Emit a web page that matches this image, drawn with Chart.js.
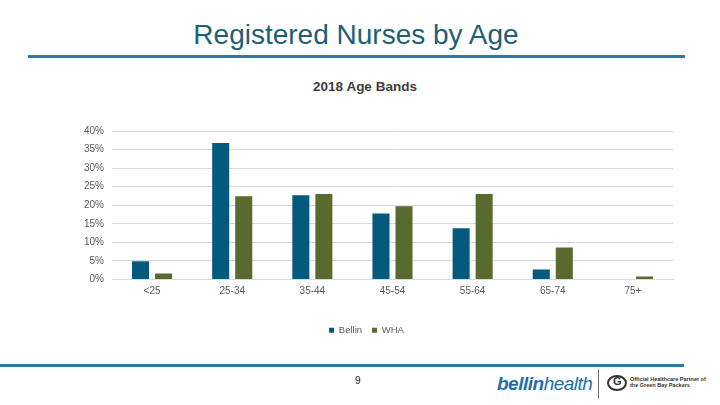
<!DOCTYPE html>
<html>
<head>
<meta charset="utf-8">
<script src="https://cdn.jsdelivr.net/npm/chart.js@4.4.0/dist/chart.umd.min.js"></script>
<style>
    body { margin: 0; width: 720px; height: 405px; background: #fff; position: relative; overflow: hidden; font-family: "Liberation Sans", Arial, sans-serif; }
    .title { position: absolute; left: 0; width: 712px; top: 19px; text-align: center; font-size: 28px; color: #1d5e78; }
    .rule-top { position: absolute; left: 28px; width: 657px; top: 55px; height: 3px; background: #2a7aa3; }
    .subtitle { position: absolute; left: 0; width: 730px; top: 79px; text-align: center; font-size: 13.5px; font-weight: bold; color: #404040; }
    .rule-bottom { position: absolute; left: 0; width: 684px; top: 364px; height: 3px; background: #2a7aa3; }
    .page { position: absolute; left: 355px; top: 375px; font-size: 10px; color: #222; }
    .logo { position: absolute; left: 497px; top: 373px; font-size: 19px; color: #1e6fa8; font-style: italic; letter-spacing: -0.5px; }
    .logo b { font-weight: 900; }
    .logo span { font-weight: 300; }
    .sep { position: absolute; left: 598px; top: 370px; width: 1px; height: 28px; background: #666; }
    .gb { position: absolute; left: 607px; top: 375px; width: 16px; height: 12px; border-radius: 50%; border: 2px solid #333; }
    .gb:after { content: "G"; position: absolute; left: 4px; top: -2px; font-size: 11px; font-weight: bold; color: #333; }
    .partner { position: absolute; left: 630px; top: 376px; font-size: 5.5px; line-height: 6px; color: #333; font-weight: bold; }
    #wrap { position: absolute; left: 60px; top: 75px; width: 640px; height: 270px; }
</style>
</head>
<body>
<div class="title">Registered Nurses by Age</div>
<div class="rule-top"></div>
<div class="subtitle">2018 Age Bands</div>
<div id="wrap"><canvas id="chartCanvas"></canvas></div>
<div class="rule-bottom"></div>
<div class="page">9</div>
<div class="logo"><b>bellin</b><span>health</span></div>
<div class="sep"></div>
<div class="gb"></div>
<div class="partner">Official Healthcare Partner of<br>the Green Bay Packers</div>
<script>
// Chart data
const categories = ['<25', '25-34', '35-44', '45-54', '55-64', '65-74', '75+'];
const bellinValues = [4.9, 36.8, 22.7, 17.8, 13.8, 2.7, 0];
const whaValues = [1.6, 22.4, 23.0, 19.7, 23.0, 8.6, 0.8];
const yTicks = [0, 5, 10, 15, 20, 25, 30, 35, 40];

const ctx = document.getElementById('chartCanvas').getContext('2d');
Chart.defaults.font.family = '"Liberation Sans", Arial, sans-serif';
Chart.defaults.font.size = 10;
Chart.defaults.color = '#595959';

const chart = new Chart(ctx, {
    type: 'bar',
    data: {
        labels: categories,
        datasets: [
            {
                label: 'Bellin',
                data: bellinValues,
                backgroundColor: '#035a7c',
                categoryPercentage: 0.575,
                barPercentage: 0.74
            },
            {
                label: 'WHA',
                data: whaValues,
                backgroundColor: '#5a6a2e',
                categoryPercentage: 0.575,
                barPercentage: 0.74
            }
        ]
    },
    options: {
        responsive: true,
        maintainAspectRatio: false,
        animation: false,
        layout: {
            padding: { top: 56, right: 27, bottom: 0, left: 0 }
        },
        scales: {
            x: {
                grid: { display: false, drawTicks: false },
                border: { display: true, color: '#d9d9d9' },
                ticks: { padding: 6 },
                afterFit: function(scale) { scale.height = 36; }
            },
            y: {
                min: 0,
                max: 40,
                afterBuildTicks: function(scale) {
                    scale.ticks = yTicks.map(v => ({ value: v }));
                },
                grid: { color: '#d9d9d9', drawTicks: false },
                border: { display: false },
                ticks: {
                    padding: 8,
                    callback: function(v) { return v + '%'; }
                },
                afterFit: function(scale) { scale.width = 52; }
            }
        },
        plugins: {
            legend: {
                position: 'bottom',
                labels: {
                    boxWidth: 5,
                    boxHeight: 5,
                    padding: 10,
                    font: { size: 9.5 }
                }
            },
            tooltip: { enabled: false }
        }
    }
});
</script>
</body>
</html>
